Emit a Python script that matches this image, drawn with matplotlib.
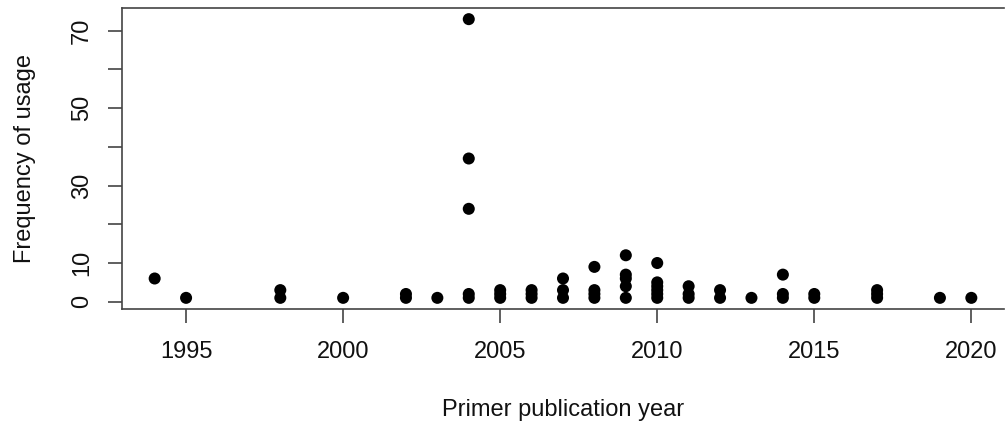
import matplotlib.pyplot as plt

plt.rcParams["font.family"] = ["Liberation Sans", "DejaVu Sans"]

# Primer publication year -> frequency of usage (one point per primer)
years = [
    1994, 1995, 1998, 1998, 2000, 2002, 2002, 2003,
    2004, 2004, 2004, 2004, 2004,
    2005, 2005, 2005, 2006, 2006, 2006,
    2007, 2007, 2007, 2008, 2008, 2008, 2008,
    2009, 2009, 2009, 2009, 2009,
    2010, 2010, 2010, 2010, 2010, 2010,
    2011, 2011, 2011, 2012, 2012, 2013,
    2014, 2014, 2014, 2015, 2015,
    2017, 2017, 2017, 2019, 2020,
]
freqs = [
    6, 1, 1, 3, 1, 1, 2, 1,
    1, 2, 24, 37, 73,
    1, 2, 3, 1, 2, 3,
    1, 3, 6, 1, 2, 3, 9,
    1, 4, 6, 7, 12,
    1, 2, 3, 4, 5, 10,
    1, 2, 4, 1, 3, 1,
    1, 2, 7, 1, 2,
    1, 2, 3, 1, 1,
]

x_ticks = [1995, 2000, 2005, 2010, 2015, 2020]
y_ticks = [0, 10, 20, 30, 40, 50, 60, 70]
y_tick_labels = ["0", "10", "", "30", "", "50", "", "70"]

W, H = 1005, 422
FS = 17
INK = "#444444"

fig = plt.figure(figsize=(W / 100, H / 100), dpi=100)
ax = fig.add_axes([122 / W, 1 - 309 / H, (1004 - 122) / W, (309 - 8) / H])

ax.scatter(years, freqs, s=75, color="black", edgecolors="none", zorder=3)

# R-style ranges: data range padded by 4% on each side
x_pad = (max(years) - min(years)) * 0.04
y_pad = (max(freqs) - min(freqs)) * 0.04
ax.set_xlim(min(years) - x_pad, max(years) + x_pad)
ax.set_ylim(min(freqs) - y_pad, max(freqs) + y_pad)

ax.set_xticks(x_ticks)
ax.set_yticks(y_ticks)
ax.set_yticklabels(y_tick_labels, rotation=90, va="center")
ax.tick_params(axis="both", direction="out", length=10, width=1.2,
               color=INK, labelcolor="#111111", labelsize=FS)
ax.tick_params(axis="x", pad=13)
ax.tick_params(axis="y", pad=11)
for spine in ax.spines.values():
    spine.set_color(INK)
    spine.set_linewidth(1.2)
ax.spines["right"].set_visible(False)

fig.text(563 / W, 1 - 416 / H, "Primer publication year", fontsize=FS,
         ha="center", va="baseline", color="#111111")
fig.text(31 / W, 1 - 158.5 / H, "Frequency of usage", fontsize=FS,
         ha="center", va="baseline", rotation=90, rotation_mode="anchor",
         color="#111111")

fig.savefig("out.png", dpi=100)
